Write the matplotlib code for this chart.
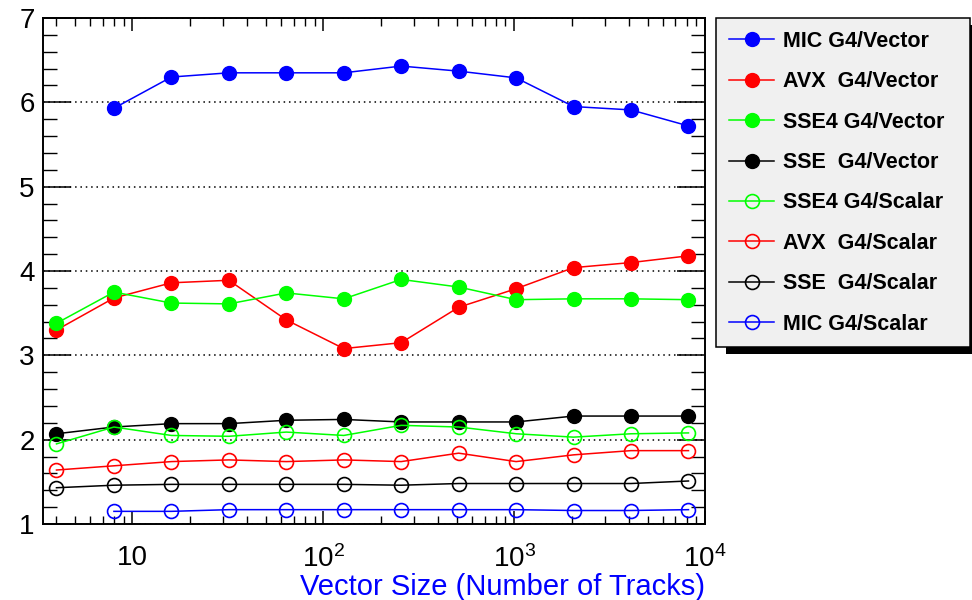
import numpy as np
import matplotlib
matplotlib.use("Agg")
import matplotlib.pyplot as plt
from matplotlib.ticker import LogLocator, FixedLocator, FuncFormatter, MultipleLocator, NullFormatter
from matplotlib.patches import Rectangle

plt.rcParams['font.family'] = ['Liberation Sans', 'DejaVu Sans']

# vector sizes (number of tracks)
sizes = [4, 8, 16, 32, 64, 128, 256, 512, 1024, 2048, 4096, 8192]

mic_vector = [None, 5.93, 6.30, 6.35, 6.35, 6.35, 6.43, 6.37, 6.29, 5.95, 5.91, 5.72]
avx_vector = [3.30, 3.68, 3.86, 3.89, 3.42, 3.08, 3.15, 3.57, 3.79, 4.04, 4.10, 4.18]
sse4_vector = [3.38, 3.75, 3.62, 3.61, 3.74, 3.67, 3.90, 3.81, 3.66, 3.67, 3.67, 3.66]
sse_vector = [2.07, 2.15, 2.19, 2.19, 2.23, 2.24, 2.21, 2.21, 2.21, 2.28, 2.28, 2.28]
sse4_scalar = [1.95, 2.15, 2.05, 2.04, 2.09, 2.05, 2.17, 2.15, 2.07, 2.03, 2.07, 2.08]
avx_scalar = [1.64, 1.69, 1.74, 1.76, 1.74, 1.76, 1.74, 1.84, 1.74, 1.82, 1.87, 1.87]
sse_scalar = [1.43, 1.46, 1.47, 1.47, 1.47, 1.47, 1.46, 1.48, 1.48, 1.48, 1.48, 1.51]
mic_scalar = [None, 1.15, 1.15, 1.17, 1.17, 1.17, 1.17, 1.17, 1.17, 1.16, 1.16, 1.17]

series = [
    ("MIC G4/Vector", mic_vector, "#0000ff", True),
    ("AVX  G4/Vector", avx_vector, "#ff0000", True),
    ("SSE4 G4/Vector", sse4_vector, "#00ff00", True),
    ("SSE  G4/Vector", sse_vector, "#000000", True),
    ("SSE4 G4/Scalar", sse4_scalar, "#00ff00", False),
    ("AVX  G4/Scalar", avx_scalar, "#ff0000", False),
    ("SSE  G4/Scalar", sse_scalar, "#000000", False),
    ("MIC G4/Scalar", mic_scalar, "#0000ff", False),
]

W, H = 972, 600
fig = plt.figure(figsize=(W / 100, H / 100), dpi=100)
ax = fig.add_axes([43 / W, 1 - 524 / H, (705 - 43) / W, (524 - 18) / H])

handles = []
for label, vals, col, filled in series:
    x = [s for s, v in zip(sizes, vals) if v is not None]
    y = [v for v in vals if v is not None]
    if filled:
        h, = ax.plot(x, y, color=col, lw=1.1, marker='o', ms=10,
                     mfc=col, mec=col, label=label, zorder=3)
    else:
        h, = ax.plot(x, y, color=col, lw=1.1, marker='o', ms=10,
                     mfc='none', mec=col, mew=1.2, label=label, zorder=3)
    handles.append(h)

ax.set_xscale('log')
ax.set_xlim(3.4, 1e4)
ax.set_ylim(1, 7)

ax.xaxis.set_major_locator(FixedLocator([10, 100, 1000, 10000]))
def fmt(v, pos):
    n = int(round(np.log10(v)))
    if n == 1:
        return "10"
    return r"$\mathdefault{10^{%d}}$" % n
ax.xaxis.set_major_formatter(FuncFormatter(fmt))
ax.xaxis.set_minor_locator(LogLocator(base=10, subs=np.arange(2, 10), numticks=20))
ax.xaxis.set_minor_formatter(NullFormatter())
ax.yaxis.set_major_locator(MultipleLocator(1))
ax.yaxis.set_minor_locator(MultipleLocator(0.2))

ax.tick_params(axis='both', which='both', direction='in', top=True, right=True, color='black')
ax.tick_params(axis='y', which='major', length=20, width=1.1, labelsize=20, pad=6)
ax.tick_params(axis='y', which='minor', length=10, width=1.0)
ax.tick_params(axis='x', which='major', length=9.5, width=1.1, labelsize=20, pad=15)
ax.tick_params(axis='x', which='minor', length=6, width=1.0)

for sp in ax.spines.values():
    sp.set_linewidth(1.4)

ax.grid(axis='y', which='major', linestyle=(0, (1, 2.5)), color='black', lw=1.1)
ax.set_axisbelow(True)

ax.set_xlabel("Vector Size (Number of Tracks)", color='#0000ff', fontsize=21, loc='right', labelpad=0)

leg = fig.legend(handles=handles, loc='upper left',
                 bbox_to_anchor=(716 / W, 0, (970 - 716) / W, 1 - 18 / H),
                 mode='expand', borderaxespad=0, fancybox=False, framealpha=1,
                 facecolor='#f0f0f0', edgecolor='black',
                 prop={'weight': 'bold', 'size': 15.5},
                 handlelength=2.1, handletextpad=0.4, labelspacing=0.9, borderpad=0.6)
leg.get_frame().set_linewidth(1.1)

fig.canvas.draw()
bb = leg.get_frame().get_window_extent().transformed(fig.transFigure.inverted())
fig.patches.append(Rectangle((bb.x0 + 10 / W, bb.y0 - 7 / H), bb.width, bb.height,
                             transform=fig.transFigure, facecolor='black', edgecolor='none',
                             zorder=4, figure=fig))

fig.savefig("out.png", dpi=100)
